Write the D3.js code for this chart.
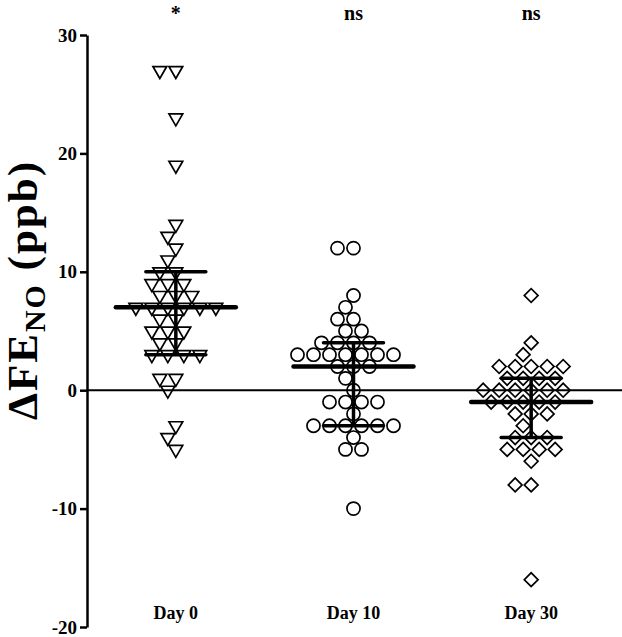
<!DOCTYPE html>
<html lang="en">
<head>
<meta charset="UTF-8">
<title>FeNO change</title>
<style>
  body { margin: 0; background: #fff; }
  text { font-family: "Liberation Serif", "Times New Roman", serif; font-weight: bold; }
</style>
</head>
<body>
<svg width="622" height="637"></svg>
<script src="https://cdn.jsdelivr.net/npm/d3@7/dist/d3.min.js"></script>
<script>
// data
var groups = ["Day 0", "Day 10", "Day 30"];
var sigLabels = ["*", "ns", "ns"];
var day0 = [27, 27, 23, 19, 14, 13, 12, 11, 10, 10, 9, 9, 9, 8, 8, 8, 7, 7, 7, 7, 7, 7,
            6, 6, 5, 5, 5, 4, 4, 3, 3, 3, 3, 1, 1, 0, -3, -4, -5];
var day10 = [12, 12, 8, 7, 6, 6, 5, 5, 4, 4, 4, 4, 3, 3, 3, 3, 3, 3, 3, 2, 2, 2, 1, 0,
             -1, -1, -1, -1, -2, -3, -3, -3, -3, -3, -3, -4, -5, -5, -10];
var day30 = [8, 4, 3, 2, 2, 2, 2, 2, 1, 1, 1, 1, 0, 0, 0, 0, 0, 0, -1, -1, -1, -1, -1,
             -2, -2, -2, -3, -4, -4, -4, -5, -5, -5, -5, -6, -8, -8, -16];
var medians = [7, 2, -1];
var q1 = [3, -3, -4];
var q3 = [10, 4, 1];
var yTicks = [30, 20, 10, 0, -10, -20];

var series = [day0, day10, day30];
var shapes = ["tri", "circle", "diamond"];

var svg = d3.select("svg");
var margin = {left: 87, right: 2, top: 35, bottom: 10};
var width = 622, height = 637;

var y = d3.scaleLinear().domain([-20, 30]).range([627, 35]);
var x = d3.scalePoint().domain(groups).range([margin.left, width - margin.right]).padding(0.5);

// simple greedy beeswarm: each point takes the free spot nearest the centre
var step = 8, minDist = 14;
function swarm(vals) {
  var placed = [];
  var sorted = vals.slice().sort((a, b) => b - a);
  sorted.forEach(function(v) {
    var py = y(v);
    for (var k = 0; k < 60; k++) {
      var off = k === 0 ? 0 : (k % 2 ? -1 : 1) * Math.ceil(k / 2) * step;
      var ok = placed.every(p => Math.hypot(p.off - off, p.py - py) >= minDist - 0.01);
      if (ok) { placed.push({v: v, py: py, off: off}); break; }
    }
  });
  return placed;
}

function symbolPath(kind) {
  if (kind === "tri") return d3.symbol(d3.symbolTriangle, 82)();
  if (kind === "circle") return d3.symbol(d3.symbolCircle, 135)();
  return d3.symbol(d3.symbolSquare, 95)();
}

// points
series.forEach(function(vals, gi) {
  var cx = x(groups[gi]);
  var rot = shapes[gi] === "tri" ? 180 : (shapes[gi] === "diamond" ? 45 : 0);
  svg.append("g").selectAll("path")
    .data(swarm(vals))
    .enter().append("path")
    .attr("d", symbolPath(shapes[gi]))
    .attr("transform", d => "translate(" + (cx + d.off) + "," + d.py + ") rotate(" + rot + ")")
    .attr("fill", "none")
    .attr("stroke", "#000")
    .attr("stroke-width", 1.7);
});

// zero line
svg.append("line")
  .attr("x1", margin.left).attr("x2", width)
  .attr("y1", y(0)).attr("y2", y(0))
  .attr("stroke", "#000").attr("stroke-width", 2);

// median and interquartile range
var stats = svg.append("g");
groups.forEach(function(g, i) {
  var cx = x(g);
  stats.append("line")
    .attr("x1", cx).attr("x2", cx).attr("y1", y(q3[i])).attr("y2", y(q1[i]))
    .attr("stroke", "#000").attr("stroke-width", 3.5);
  [q1[i], q3[i]].forEach(function(q) {
    stats.append("line")
      .attr("x1", cx - 30).attr("x2", cx + 30).attr("y1", y(q)).attr("y2", y(q))
      .attr("stroke", "#000").attr("stroke-width", 3.5).attr("stroke-linecap", "round");
  });
  stats.append("line")
    .attr("x1", cx - 60).attr("x2", cx + 60).attr("y1", y(medians[i])).attr("y2", y(medians[i]))
    .attr("stroke", "#000").attr("stroke-width", 4.5).attr("stroke-linecap", "round");
});

// y axis
var yAxis = d3.axisLeft(y).tickValues(yTicks).tickSize(7).tickSizeOuter(0).tickPadding(3)
  .tickFormat(d => String(d));
var ga = svg.append("g").attr("transform", "translate(" + margin.left + ",0)").call(yAxis);
ga.select(".domain").attr("stroke-width", 2.5);
ga.selectAll(".tick line").attr("stroke-width", 2.5);
ga.selectAll(".tick text").attr("font-size", 19).attr("font-family", "Liberation Serif").attr("fill", "#000");

// group labels under the plot
svg.append("g").selectAll("text")
  .data(groups).enter().append("text")
  .attr("x", d => x(d)).attr("y", 619)
  .attr("text-anchor", "middle").attr("font-size", 18)
  .text(d => d);

// significance marks on top
svg.append("g").selectAll("text")
  .data(sigLabels).enter().append("text")
  .attr("x", (d, i) => x(groups[i])).attr("y", 20)
  .attr("text-anchor", "middle").attr("font-size", 20)
  .text(d => d);

// y title
var title = svg.append("text")
  .attr("transform", "translate(37,290) rotate(-90)")
  .attr("text-anchor", "middle").attr("font-size", 43)
  .attr("letter-spacing", 2);
title.append("tspan").text("\u0394FE");
title.append("tspan").attr("font-size", 30).attr("dy", 8).text("NO");
title.append("tspan").attr("dy", -8).text(" (ppb)");
</script>
</body>
</html>
